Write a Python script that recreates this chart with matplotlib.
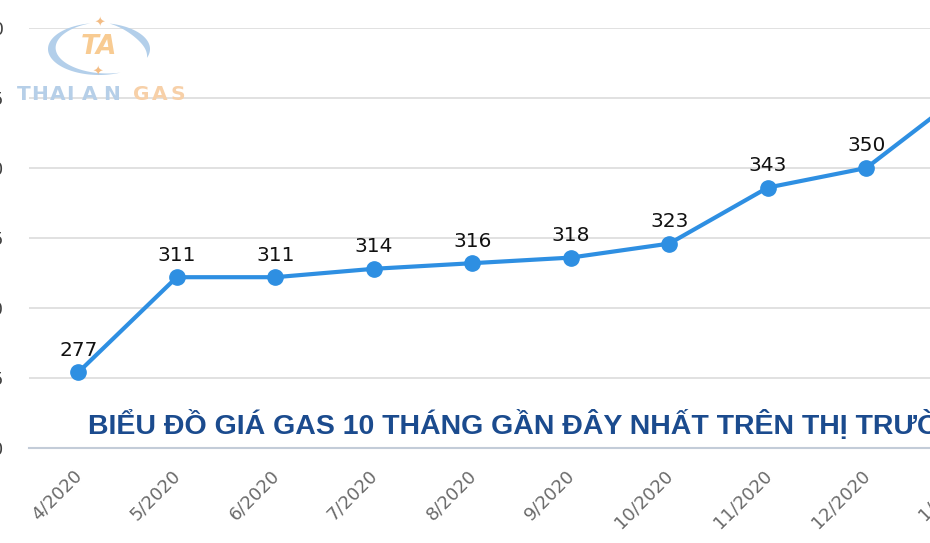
import numpy as np
import matplotlib.pyplot as plt
import matplotlib.transforms as mtrans

# giá gas theo tháng
months = ['4/2020', '5/2020', '6/2020', '7/2020', '8/2020', '9/2020',
          '10/2020', '11/2020', '12/2020', '1/2021']
prices = [277, 311, 311, 314, 316, 318, 323, 343, 350, 377]
yticks = [250, 275, 300, 325, 350, 375, 400]
title = 'BIỂU ĐỒ GIÁ GAS 10 THÁNG GẦN ĐÂY NHẤT TRÊN THỊ TRƯỜNG'

fig = plt.figure(figsize=(9.3, 5.43), dpi=100)
# truc bi cat ngoai khung hinh (anh goc bi crop)
ax = fig.add_axes([29 / 930, 95 / 543, 985 / 930, 420 / 543])

x = list(range(len(months)))
ax.plot(x, prices, color='#2e8fe2', lw=3, marker='o', ms=11, zorder=3, clip_on=False)
for i, v in enumerate(prices):
    ax.annotate(str(v), (i, v), xytext=(0, 9), textcoords='offset points',
                ha='center', va='bottom', fontsize=14.5, color='#111111')

ax.set_xlim(-0.5, len(months) - 0.5)
ax.set_ylim(250, 400)
ax.set_yticks(yticks)
ax.set_yticklabels([str(t) for t in yticks], fontsize=13, color='#404040')
ax.tick_params(axis='y', length=0, pad=18)
ax.grid(axis='y', color='#dcdcdc', lw=1.2)
ax.set_axisbelow(True)
for s in ['top', 'right', 'left']:
    ax.spines[s].set_visible(False)
ax.spines['bottom'].set_color('#c3ccd8')
ax.spines['bottom'].set_linewidth(1.5)

ax.set_xticks(x)
ax.set_xticklabels(months, rotation=45, ha='right', va='center',
                   rotation_mode='anchor', fontsize=13, color='#6a6a6a')
ax.tick_params(axis='x', length=0, pad=18)
off = mtrans.ScaledTranslation(1 / 100, 0, fig.dpi_scale_trans)
for lab in ax.get_xticklabels():
    lab.set_transform(lab.get_transform() + off)

# tieu de
fig.text(88 / 930, 1 - 434 / 543, title, ha='left', va='baseline',
         fontsize=20.5, fontweight='bold', color='#1b4b8e',
         family='Liberation Sans')

# logo mo (watermark), toa do pixel, y tinh tu duoi len
lax = fig.add_axes([0, 0, 1, 1], facecolor='none')
lax.set_xlim(0, 930)
lax.set_ylim(0, 543)
lax.axis('off')
H = 543


def crescent(a1, a2, cx=99, cy=H - 49, rx=51, ry=26, thick=8):
    t = np.radians(np.linspace(a1, a2, 80))
    w = thick * np.sin(np.linspace(0, np.pi, 80))
    xo, yo = cx + rx * np.cos(t), cy + ry * np.sin(t)
    xi, yi = cx + (rx - w) * np.cos(t), cy + (ry - w * 0.6) * np.sin(t)
    lax.fill(np.r_[xo, xi[::-1]], np.r_[yo, yi[::-1]], color='#b3cfea', lw=0)


crescent(100, 295)
crescent(-20, 78)
lax.text(99, H - 47, 'TA', ha='center', va='center', fontsize=19, fontweight='bold',
         style='italic', color='#f8cb92', family='DejaVu Sans')
lax.text(100, H - 23, '✦', ha='center', va='center', fontsize=9, color='#f3bc84')
lax.text(98, H - 72, '✦', ha='center', va='center', fontsize=9, color='#f3bc84')
letters = ['T', 'H', 'A', 'I', 'A', 'N', 'G', 'A', 'S']
letter_x = [23.5, 40, 57.5, 70, 90, 112, 141.5, 160, 177.5]
for ch, lx, k in zip(letters, letter_x, range(9)):
    lax.text(lx, H - 95, ch, ha='center', va='center', fontsize=14.5, fontweight='bold',
             color='#b6cfe8' if k < 6 else '#f7d0a8', family='DejaVu Sans')

fig.savefig('out.png', dpi=100)
